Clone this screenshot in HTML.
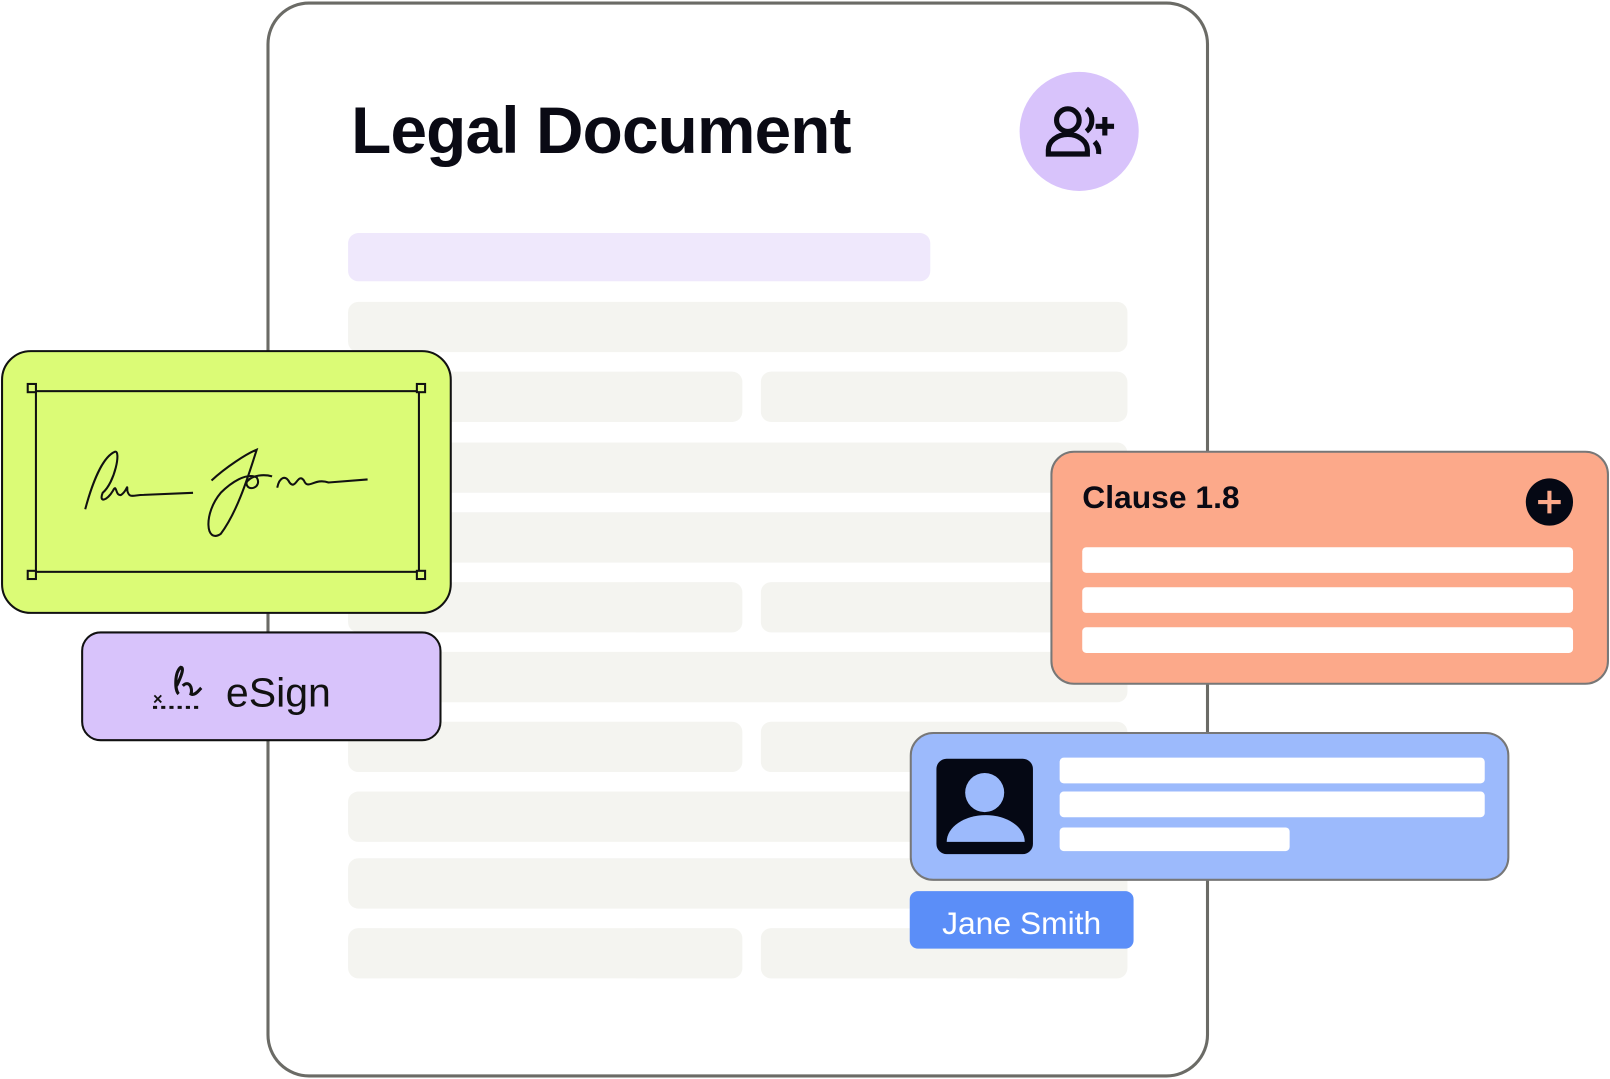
<!DOCTYPE html>
<html><head><meta charset="utf-8"><style>
html,body{margin:0;padding:0;background:#fff;width:1610px;height:1079px;overflow:hidden}
svg{display:block}
text{font-family:"Liberation Sans",sans-serif}
</style></head><body>
<svg width="1610" height="1079" viewBox="0 0 1568 1051" preserveAspectRatio="none" xmlns="http://www.w3.org/2000/svg">
<rect x="261" y="3" width="915" height="1045" rx="40" fill="#fff" stroke="#6b6b66" stroke-width="3"/>
<text x="342" y="149" font-size="64" font-weight="bold" fill="#0a0a14" letter-spacing="-0.8">Legal Document</text>
<circle cx="1051" cy="128" r="58" fill="#d8c3fb"/>
<g fill="none" stroke="#0a0a14" stroke-width="5">
<circle cx="1040" cy="117" r="11"/>
<path d="M1021 150 v-4 a19 15 0 0 1 38 0 v4 z"/>
<path d="M1058 106 a14 14 0 0 1 0 22"/>
<path d="M1066 138 a15 15 0 0 1 4 12"/>
</g>
<path d="M1076 114 v18 M1067 123 h18" stroke="#0a0a14" stroke-width="5"/>
<rect x="339" y="227" width="567" height="47" rx="10" fill="#efe8fc"/>
<g fill="#f4f4f0">
<rect x="339" y="294" width="759" height="49" rx="10"/>
<rect x="339" y="362" width="384" height="49" rx="10"/><rect x="741" y="362" width="357" height="49" rx="10"/>
<rect x="339" y="431" width="759" height="49" rx="10"/>
<rect x="339" y="499" width="759" height="49" rx="10"/>
<rect x="339" y="567" width="384" height="49" rx="10"/><rect x="741" y="567" width="357" height="49" rx="10"/>
<rect x="339" y="635" width="759" height="49" rx="10"/>
<rect x="339" y="703" width="384" height="49" rx="10"/><rect x="741" y="703" width="357" height="49" rx="10"/>
<rect x="339" y="771" width="759" height="49" rx="10"/>
<rect x="339" y="836" width="759" height="49" rx="10"/>
<rect x="339" y="904" width="384" height="49" rx="10"/><rect x="741" y="904" width="357" height="49" rx="10"/>
</g>
<rect x="2" y="342" width="437" height="255" rx="28" fill="#dbfb76" stroke="#111" stroke-width="2"/>
<rect x="35" y="381" width="373" height="176" fill="none" stroke="#111" stroke-width="2"/>
<g fill="#dbfb76" stroke="#111" stroke-width="2">
<rect x="27" y="374" width="8" height="8"/><rect x="406" y="374" width="8" height="8"/>
<rect x="27" y="556" width="8" height="8"/><rect x="406" y="556" width="8" height="8"/>
</g>
<path d="M83 496 C90 470 100 445 112 440 C118 438 112 470 100 480 C96 490 104 488 110 478 C114 470 112 484 118 482 C124 478 124 470 124 478 C126 486 130 482 140 482 L188 480 M206 468 C220 455 240 442 250 438 C240 470 230 500 215 520 C200 530 198 500 215 480 C225 470 240 460 250 465 C256 475 240 480 240 470 C245 462 258 462 265 464 M270 475 C272 465 278 462 282 470 C288 478 290 460 296 468 C300 478 306 465 320 470 L358 467" fill="none" stroke="#111" stroke-width="2"/>
<rect x="80" y="616" width="349" height="105" rx="18" fill="#d8c3fb" stroke="#111" stroke-width="2"/>
<text x="149" y="686" font-size="16" font-weight="bold" fill="#111">×</text>
<path d="M172 668 C176 660 180 650 176 650 C170 655 170 672 174 676 M178 668 C184 662 188 670 186 676 C190 678 194 672 196 670" fill="none" stroke="#111" stroke-width="3"/>
<path d="M149 689 h48" stroke="#111" stroke-width="3" stroke-dasharray="4 4"/>
<text x="220" y="688" font-size="40" fill="#111">eSign</text>
<rect x="1024" y="440" width="542" height="226" rx="22" fill="#fca98a" stroke="#777" stroke-width="2"/>
<text x="1054" y="495" font-size="31" font-weight="bold" fill="#0a0a14" letter-spacing="0">Clause 1.8</text>
<circle cx="1509" cy="489" r="23" fill="#050814"/>
<path d="M1509 478 v22 M1498 489 h22" stroke="#fca98a" stroke-width="4"/>
<g fill="#fff"><rect x="1054" y="533" width="478" height="25" rx="4"/><rect x="1054" y="572" width="478" height="25" rx="4"/><rect x="1054" y="611" width="478" height="25" rx="4"/></g>
<rect x="887" y="714" width="582" height="143" rx="22" fill="#9cbafc" stroke="#777" stroke-width="2"/>
<rect x="912" y="739" width="94" height="93" rx="10" fill="#050814"/>
<circle cx="959" cy="772" r="19" fill="#9cbafc"/>
<path d="M922 820 a38 26 0 0 1 76 0 z" fill="#9cbafc"/>
<g fill="#fff"><rect x="1032" y="738" width="414" height="25" rx="4"/><rect x="1032" y="771" width="414" height="25" rx="4"/><rect x="1032" y="806" width="224" height="23" rx="4"/></g>
<rect x="886" y="868" width="218" height="56" rx="8" fill="#5b8ef8"/>
<text x="995" y="910" font-size="31" fill="#fff" text-anchor="middle">Jane Smith</text>
</svg>
</body></html>
